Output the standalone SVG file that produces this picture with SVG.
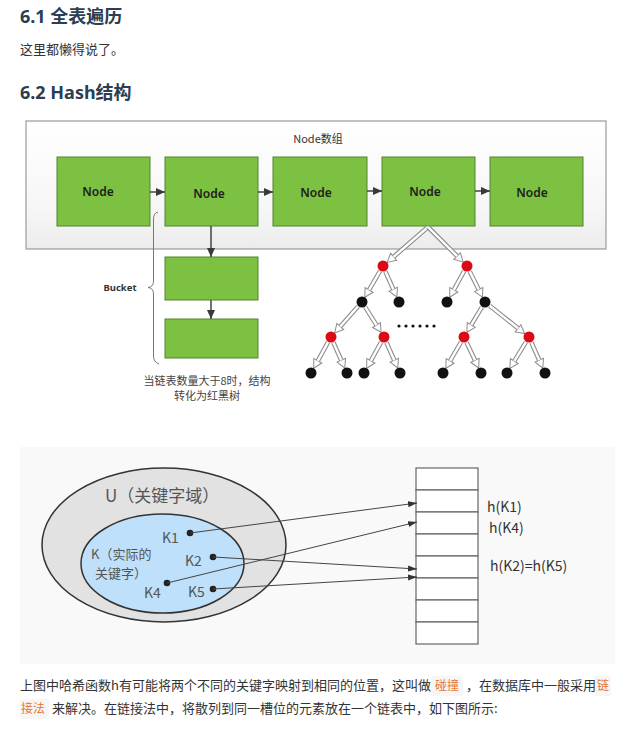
<svg xmlns="http://www.w3.org/2000/svg" width="639" height="733" viewBox="0 0 639 733">
<style>
.h{font-family:"Noto Sans","Noto Sans CJK SC",sans-serif;font-weight:700;font-size:18px;fill:#2c3e50}
.p{font-family:"Noto Sans CJK SC","Noto Sans",sans-serif;font-size:13px;fill:#333}
.o{font-family:"Noto Sans CJK SC","Noto Sans",sans-serif;font-size:12px;fill:#e8772e}
.node rect{fill:#7cc142;stroke:#55832c;stroke-width:1}
.node text{font-family:"Noto Sans","DejaVu Sans",sans-serif;font-weight:600;font-size:12px;fill:#1e1e1e;text-anchor:middle}
.cap{font-family:"Noto Sans CJK SC",sans-serif;font-size:11px;fill:#444;text-anchor:middle}
.ho{stroke:#8c8c8c;stroke-width:4.6;fill:none;marker-end:url(#hollow)}
.hi{stroke:#fff;stroke-width:2.4;fill:none}
.red{fill:#dc0a14}
.blk{fill:#111}
.k{font-family:"Noto Sans CJK SC","Noto Sans",sans-serif;font-size:14px;fill:#555}
.hk{font-family:"Noto Sans CJK SC","Noto Sans",sans-serif;font-size:14px;fill:#333}
.lk{stroke:#444;stroke-width:1;fill:none;marker-end:url(#fa)}
.cell{fill:#fff;stroke:#666;stroke-width:1.2}
</style>
<defs>
<linearGradient id="bg" x1="0" y1="0" x2="0" y2="1">
<stop offset="0" stop-color="#ffffff"/><stop offset="0.7" stop-color="#f6f6f6"/><stop offset="1" stop-color="#ececec"/>
</linearGradient>
<marker id="hollow" markerUnits="userSpaceOnUse" markerWidth="12" markerHeight="12" viewBox="-1 -6 12 12" refX="0" refY="0" orient="auto" overflow="visible">
<path d="M0,-4.6 L8.5,0 L0,4.6 Z" fill="#fff" stroke="#8c8c8c" stroke-width="1"/>
</marker>
<marker id="da" markerUnits="userSpaceOnUse" markerWidth="10" markerHeight="10" viewBox="0 -5 10 10" refX="9" refY="0" orient="auto">
<path d="M0,-4 L9,0 L0,4 Z" fill="#3a3a3a"/>
</marker>
<marker id="fa" markerUnits="userSpaceOnUse" markerWidth="10" markerHeight="8" viewBox="0 -4 10 8" refX="9" refY="0" orient="auto">
<path d="M0,-3 L9,0 L0,3 Z" fill="#333"/>
</marker>
</defs>
<rect width="639" height="733" fill="#fff"/>

<text class="h" x="20" y="23">6.1 全表遍历</text>
<text class="p" x="20" y="54">这里都懒得说了。</text>
<text class="h" x="20" y="99">6.2 Hash结构</text>

<!-- top figure -->
<rect id="array" x="26" y="121" width="580" height="128" fill="url(#bg)" stroke="#9a9a9a" stroke-width="1.2"/>
<text x="318" y="143" font-family="Noto Sans CJK SC,sans-serif" font-size="11" fill="#333" text-anchor="middle">Node数组</text>

<g id="node1" class="node"><rect x="57" y="157" width="93" height="69"/><text x="98" y="196">Node</text></g>
<g id="node2" class="node"><rect x="165" y="157" width="93" height="69"/><text x="209" y="198">Node</text></g>
<g id="node3" class="node"><rect x="273" y="157" width="94" height="69"/><text x="316" y="197">Node</text></g>
<g id="node4" class="node"><rect x="382" y="157" width="93" height="69"/><text x="425" y="196">Node</text></g>
<g id="node5" class="node"><rect x="490" y="157" width="93" height="69"/><text x="532" y="197">Node</text></g>
<g id="bucket1" class="node"><rect x="165" y="257" width="93" height="43"/></g>
<g id="bucket2" class="node"><rect x="165" y="319" width="93" height="39"/></g>

<g id="connectors">
<line x1="150" y1="192" x2="165" y2="192" stroke="#444" stroke-width="1.5" marker-end="url(#da)"/>
<line x1="258" y1="192" x2="273" y2="192" stroke="#444" stroke-width="1.5" marker-end="url(#da)"/>
<line x1="367" y1="191" x2="382" y2="191" stroke="#444" stroke-width="1.5" marker-end="url(#da)"/>
<line x1="475" y1="191" x2="490" y2="191" stroke="#444" stroke-width="1.5" marker-end="url(#da)"/>
<line x1="211" y1="226" x2="211" y2="257" stroke="#444" stroke-width="1.5" marker-end="url(#da)"/>
<line x1="211" y1="300" x2="211" y2="319" stroke="#444" stroke-width="1.5" marker-end="url(#da)"/>
<path d="M158,212 Q153.5,213 153.5,219 L153.5,281 Q153.5,287 148,287.5 Q153.5,288 153.5,294 L153.5,356 Q153.5,362 159,364" fill="none" stroke="#777" stroke-width="1"/>

<!-- tree arrows -->
<path class="ho" d="M428,227 L393.6,256.8"/><path class="hi" d="M428,227 L393.6,256.8"/>
<path class="ho" d="M428,227 L457.1,256.1"/><path class="hi" d="M428,227 L457.1,256.1"/>
<path class="ho" d="M380,271.2 L369.1,289.9"/><path class="hi" d="M380,271.2 L369.1,289.9"/>
<path class="ho" d="M385.4,271.5 L393.3,289.2"/><path class="hi" d="M385.4,271.5 L393.3,289.2"/>
<path class="ho" d="M464.1,271.2 L453.8,289.8"/><path class="hi" d="M464.1,271.2 L453.8,289.8"/>
<path class="ho" d="M469.7,271.4 L478.7,289.5"/><path class="hi" d="M469.7,271.4 L478.7,289.5"/>
<path class="ho" d="M358,306.5 L340.3,326.5"/><path class="hi" d="M358,306.5 L340.3,326.5"/>
<path class="ho" d="M365.2,307.1 L376.5,325.1"/><path class="hi" d="M365.2,307.1 L376.5,325.1"/>
<path class="ho" d="M481.9,307.1 L471.2,325"/><path class="hi" d="M481.9,307.1 L471.2,325"/>
<path class="ho" d="M489.7,305.7 L518,328.3"/><path class="hi" d="M489.7,305.7 L518,328.3"/>
<path class="ho" d="M328.1,342.2 L317.8,360.8"/><path class="hi" d="M328.1,342.2 L317.8,360.8"/>
<path class="ho" d="M333.4,342.5 L341.3,360.2"/><path class="hi" d="M333.4,342.5 L341.3,360.2"/>
<path class="ho" d="M381.1,342.2 L370.8,360.8"/><path class="hi" d="M381.1,342.2 L370.8,360.8"/>
<path class="ho" d="M386.4,342.5 L394.3,360.2"/><path class="hi" d="M386.4,342.5 L394.3,360.2"/>
<path class="ho" d="M461,342.2 L450.1,360.9"/><path class="hi" d="M461,342.2 L450.1,360.9"/>
<path class="ho" d="M466.6,342.4 L475,360.3"/><path class="hi" d="M466.6,342.4 L475,360.3"/>
<path class="ho" d="M525.9,342.1 L514.3,361.1"/><path class="hi" d="M525.9,342.1 L514.3,361.1"/>
<path class="ho" d="M531.4,342.5 L539.3,360.2"/><path class="hi" d="M531.4,342.5 L539.3,360.2"/>
</g>

<text x="120" y="291" font-family="Noto Sans,DejaVu Sans,sans-serif" font-weight="700" font-size="9.5" fill="#333" text-anchor="middle">Bucket</text>
<text class="cap" x="207" y="385">当链表数量大于8时，结构</text>
<text class="cap" x="207" y="400">转化为红黑树</text>

<g id="tree">
<circle class="red" cx="383" cy="266" r="5.5"/><circle class="red" cx="467" cy="266" r="5.5"/>
<circle class="blk" cx="362" cy="302" r="5.5"/><circle class="blk" cx="399" cy="302" r="5.5"/>
<circle class="blk" cx="447" cy="302" r="5.5"/><circle class="blk" cx="485" cy="302" r="5.5"/>
<circle class="red" cx="331" cy="337" r="5.5"/><circle class="red" cx="384" cy="337" r="5.5"/>
<circle class="red" cx="464" cy="337" r="5.5"/><circle class="red" cx="529" cy="337" r="5.5"/>
<circle class="blk" cx="311" cy="373" r="5.5"/><circle class="blk" cx="347" cy="373" r="5.5"/>
<circle class="blk" cx="364" cy="373" r="5.5"/><circle class="blk" cx="400" cy="373" r="5.5"/>
<circle class="blk" cx="443" cy="373" r="5.5"/><circle class="blk" cx="481" cy="373" r="5.5"/>
<circle class="blk" cx="507" cy="373" r="5.5"/><circle class="blk" cx="545" cy="373" r="5.5"/>
<g fill="#111"><circle cx="399" cy="326" r="1.6"/><circle cx="406" cy="326" r="1.6"/><circle cx="413" cy="326" r="1.6"/><circle cx="420" cy="326" r="1.6"/><circle cx="427" cy="326" r="1.6"/><circle cx="434" cy="326" r="1.6"/></g>
</g>

<!-- hash figure -->
<rect x="20" y="447" width="595" height="217" fill="#f9f9f9"/>
<g id="U">
<ellipse cx="164" cy="545" rx="122" ry="77" fill="#e2e2e2" stroke="#333" stroke-width="1.5"/>
<text class="k" x="105" y="502" style="font-size:17px">U（关键字域）</text>
</g>
<g id="K">
<ellipse cx="162.5" cy="563.5" rx="81.5" ry="49.5" fill="#bfe0fa" stroke="#333" stroke-width="1.5"/>
<text class="k" x="91" y="559" style="font-size:13px">K（实际的</text>
<text class="k" x="95" y="578" style="font-size:13px">关键字）</text>
<text class="k" x="162" y="543">K1</text>
<text class="k" x="185" y="566">K2</text>
<text class="k" x="144" y="598">K4</text>
<text class="k" x="188" y="597">K5</text>
<circle cx="190" cy="533" r="3.3" fill="#222"/>
<circle cx="213" cy="557" r="3.3" fill="#222"/>
<circle cx="167" cy="583" r="3.3" fill="#222"/>
<circle cx="213" cy="589" r="3.3" fill="#222"/>
</g>
<g id="table">
<rect class="cell" x="416" y="468" width="62" height="22"/>
<rect class="cell" x="416" y="490" width="62" height="22"/>
<rect class="cell" x="416" y="512" width="62" height="22"/>
<rect class="cell" x="416" y="534" width="62" height="22"/>
<rect class="cell" x="416" y="556" width="62" height="22"/>
<rect class="cell" x="416" y="578" width="62" height="22"/>
<rect class="cell" x="416" y="600" width="62" height="22"/>
<rect class="cell" x="416" y="622" width="62" height="22"/>
<text class="hk" x="487" y="512">h(K1)</text>
<text class="hk" x="489" y="533">h(K4)</text>
<text class="hk" x="490" y="571">h(K2)=h(K5)</text>
</g>
<g id="links">
<line class="lk" x1="190" y1="533" x2="417" y2="503"/>
<line class="lk" x1="167" y1="583" x2="417" y2="522"/>
<line class="lk" x1="213" y1="557" x2="417" y2="569"/>
<line class="lk" x1="213" y1="589" x2="417" y2="577"/>
</g>

<!-- paragraph -->
<rect x="431" y="676" width="32" height="20" rx="2" fill="#f6f6f6"/>
<rect x="594" y="676" width="17" height="20" rx="2" fill="#f6f6f6"/>
<rect x="20" y="699" width="29" height="20" rx="2" fill="#f6f6f6"/>
<text class="p" x="20" y="690">上图中哈希函数h有可能将两个不同的关键字映射到相同的位置，这叫做</text>
<text class="o" x="435" y="690">碰撞</text>
<text class="p" x="466" y="690">，在数据库中一般采用</text>
<text class="o" x="597" y="690">链</text>
<text class="o" x="21" y="713">接法</text>
<text class="p" x="52" y="713">来解决。在链接法中，将散列到同一槽位的元素放在一个链表中，如下图所示:</text>
</svg>
